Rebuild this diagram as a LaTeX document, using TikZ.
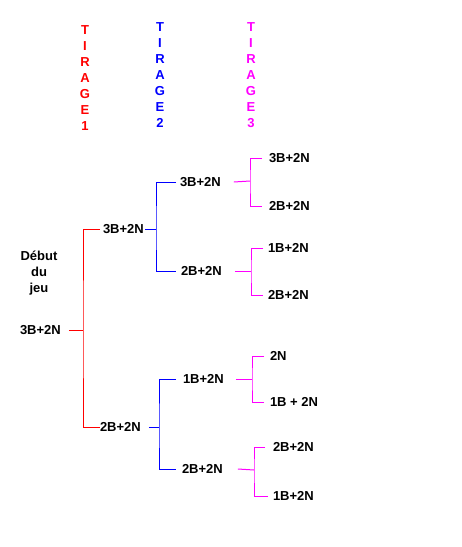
\documentclass[tikz,border=0pt]{standalone}
\usepackage{fontspec}
\setmainfont{Liberation Sans}
\definecolor{tred}{RGB}{255,0,0}
\definecolor{tblue}{RGB}{0,0,255}
\definecolor{tmag}{RGB}{255,0,255}
\begin{document}
\begin{tikzpicture}[x=1pt,y=-1pt,
  lbl/.style={font=\fontsize{13}{16}\selectfont\bfseries, inner sep=0pt, outer sep=0pt, anchor=west},
  hdr/.style={font=\fontsize{13}{16}\selectfont\bfseries, inner sep=0pt, align=center},
  conn/.style={line width=1pt}]
\useasboundingbox (0,0) rectangle (462,547);
% headers
\node[hdr, text=tred]  (t1) at (85,78)  {T\\I\\R\\A\\G\\E\\1};
\node[hdr, text=tblue] (t2) at (160,75.5) {T\\I\\R\\A\\G\\E\\2};
\node[hdr, text=tmag]  (t3) at (251,75.5) {T\\I\\R\\A\\G\\E\\3};
% labels
\node[hdr] (debut) at (39,273) {Début\\du\\jeu};
\node[lbl] (root) at (20,330) {3B+2N};
\node[lbl] (a) at (103,229) {3B+2N};
\node[lbl] (b) at (100,427) {2B+2N};
\node[lbl] (aa) at (180,182) {3B+2N};
\node[lbl] (ab) at (181,271) {2B+2N};
\node[lbl] (ba) at (183,379) {1B+2N};
\node[lbl] (bb) at (182,469) {2B+2N};
\node[lbl] (aaa) at (269,158) {3B+2N};
\node[lbl] (aab) at (269,206) {2B+2N};
\node[lbl] (aba) at (268,248) {1B+2N};
\node[lbl] (abb) at (268,295) {2B+2N};
\node[lbl] (baa) at (270,356) {2N};
\node[lbl] (bab) at (270,402) {1B + 2N};
\node[lbl] (bba) at (273,447) {2B+2N};
\node[lbl] (bbb) at (273,496) {1B+2N};
% joints
\coordinate (j0) at (83,330);
\coordinate (j1) at (156,229);
\coordinate (j2) at (159,427);
\coordinate (k1) at (250,181);
\coordinate (k2) at (251,271);
\coordinate (k3) at (252,379);
\coordinate (k4) at (254,470);
% red
\draw[conn,tred] ([xshift=8]root.east) -- (j0);
\draw[conn,tred] ([xshift=-3]a.west) -| (j0) |- (b.west);
% blue
\draw[conn,tblue] ([xshift=1]a.east) -- (j1);
\draw[conn,tblue] ([xshift=-4]aa.west) -| (j1) |- ([xshift=-5]ab.west);
\draw[conn,tblue] ([xshift=8]b.east) -- (j2);
\draw[conn,tblue] ([xshift=-7]ba.west) -| (j2) |- ([xshift=-6]bb.west);
% magenta
\draw[conn,tmag] ([xshift=13]aa.east) -- (k1);
\draw[conn,tmag] ([xshift=-7]aaa.west) -| (k1) |- ([xshift=-7]aab.west);
\draw[conn,tmag] ([xshift=13]ab.east) -- (k2);
\draw[conn,tmag] ([xshift=-5]aba.west) -| (k2) |- ([xshift=-5]abb.west);
\draw[conn,tmag] ([xshift=12]ba.east) -- (k3);
\draw[conn,tmag] ([xshift=-6]baa.west) -| (k3) |- ([xshift=-6]bab.west);
\draw[conn,tmag] ([xshift=15]bb.east) -- (k4);
\draw[conn,tmag] ([xshift=-8]bba.west) -| (k4) |- ([xshift=-5]bbb.west);
\end{tikzpicture}
\end{document}
